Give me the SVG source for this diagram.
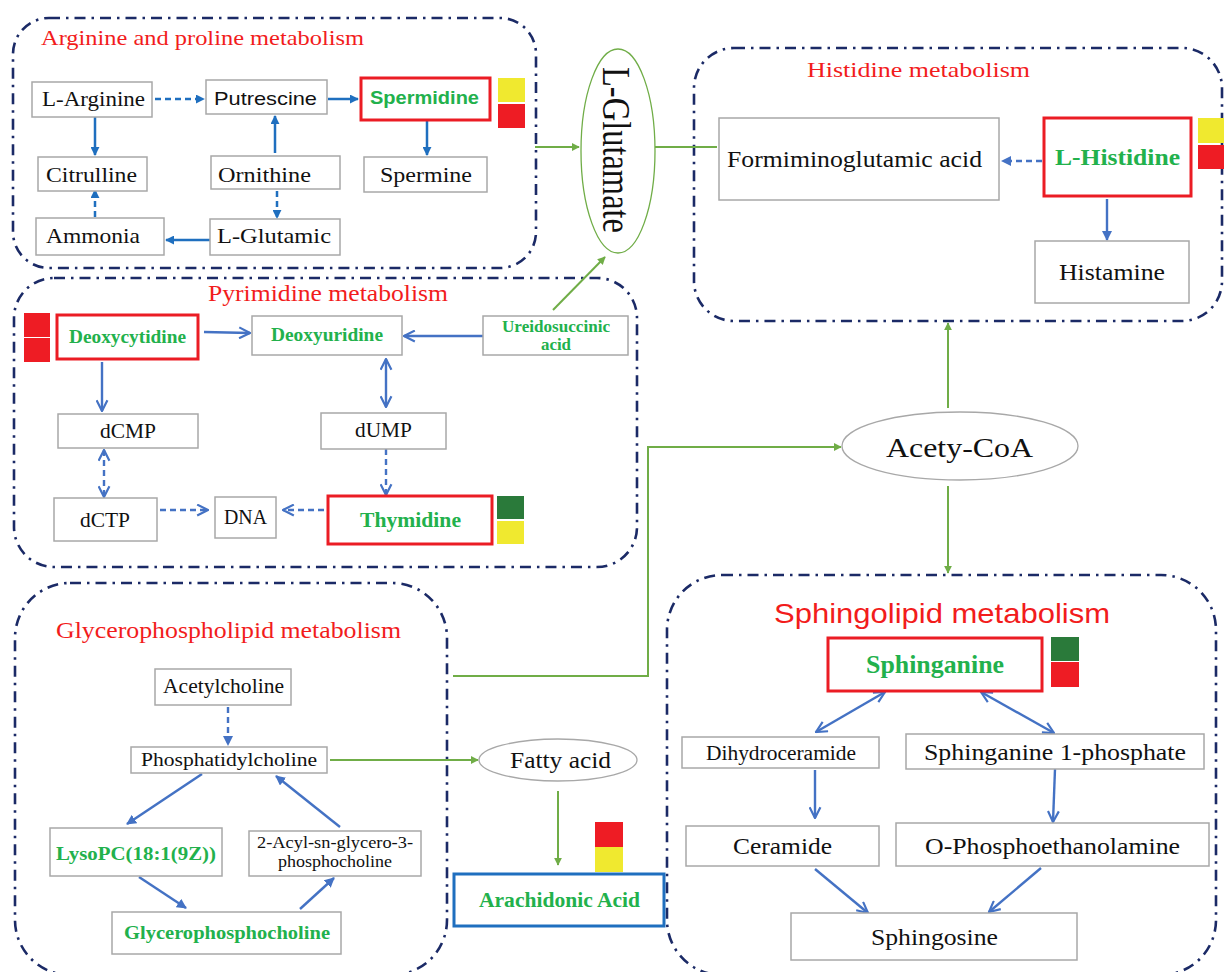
<svg xmlns="http://www.w3.org/2000/svg" width="1224" height="972" viewBox="0 0 1224 972">
<defs>
<marker id="aB" viewBox="0 0 10 10" refX="9" refY="5" markerWidth="9" markerHeight="9" markerUnits="userSpaceOnUse" orient="auto-start-reverse"><path d="M0,0 L10,5 L0,10 z" fill="#1F6FBF"/></marker>
<marker id="aL" viewBox="0 0 10 10" refX="9" refY="5" markerWidth="10" markerHeight="10" markerUnits="userSpaceOnUse" orient="auto-start-reverse"><path d="M0,0 L10,5 L0,10 z" fill="#4472C4"/></marker>
<marker id="oL" viewBox="0 0 12 12" refX="11" refY="6" markerWidth="13" markerHeight="13" markerUnits="userSpaceOnUse" orient="auto-start-reverse"><path d="M1,1 L11,6 L1,11" fill="none" stroke="#4472C4" stroke-width="2"/></marker>
<marker id="aG" viewBox="0 0 10 10" refX="9" refY="5" markerWidth="8" markerHeight="8" markerUnits="userSpaceOnUse" orient="auto"><path d="M0,0 L10,5 L0,10 z" fill="#70AD47"/></marker>
</defs>
<style>
.panel{fill:none;stroke:#1B2A66;stroke-width:2.6;stroke-dasharray:11 6 2.5 6}
.box{fill:#fff;stroke:#A8A8A8;stroke-width:1.5}
.rbox{fill:#fff;stroke:#EB1C24;stroke-width:3}
.t{font-family:"Liberation Serif",serif;fill:#111;text-anchor:middle}
.s{font-family:"Liberation Sans",sans-serif;fill:#111;text-anchor:middle}
.g{font-family:"Liberation Serif",serif;font-weight:bold;fill:#22B14C;text-anchor:middle}
.gs{font-family:"Liberation Sans",sans-serif;font-weight:bold;fill:#22B14C;text-anchor:middle}
.ti{font-family:"Liberation Serif",serif;fill:#F21C1C}
.tis{font-family:"Liberation Sans",sans-serif;fill:#F21C1C}
.cB{fill:none;stroke:#1F6FBF;stroke-width:2.5;marker-end:url(#aB)}
.cL{fill:none;stroke:#4472C4;stroke-width:2.4;marker-end:url(#aL)}
.cO{fill:none;stroke:#4472C4;stroke-width:2.4;marker-end:url(#oL)}
.cG{fill:none;stroke:#70AD47;stroke-width:2;marker-end:url(#aG)}
.d{stroke-dasharray:6 4}
.yel{fill:#F0E92F}
.red{fill:#EE1C24}
.dg{fill:#2A7A3A}
</style>

<g id="panels">
<rect class="panel" x="13" y="18" width="523" height="250" rx="36"/>
<rect class="panel" x="694" y="48" width="528" height="273" rx="40"/>
<rect class="panel" x="14" y="278" width="623" height="289" rx="40"/>
<rect class="panel" x="15" y="583" width="432" height="392" rx="55"/>
<rect class="panel" x="667" y="575" width="549" height="400" rx="55"/>
</g>

<g id="titles">
<text class="ti" x="41" y="45" font-size="21" textLength="323" lengthAdjust="spacingAndGlyphs">Arginine and proline metabolism</text>
<text class="ti" x="807" y="77" font-size="21" textLength="223" lengthAdjust="spacingAndGlyphs">Histidine metabolism</text>
<text class="ti" x="208" y="301" font-size="23.5" textLength="240" lengthAdjust="spacingAndGlyphs">Pyrimidine metabolism</text>
<text class="ti" x="56" y="638" font-size="23" textLength="345" lengthAdjust="spacingAndGlyphs">Glycerophospholipid metabolism</text>
<text class="tis" x="774" y="623" font-size="28" textLength="336" lengthAdjust="spacingAndGlyphs">Sphingolipid metabolism</text>
</g>

<g id="connectors">
<path class="cB d" d="M155,99 H204"/>
<path class="cB" d="M328,99 H358"/>
<path class="cB" d="M95,117 V155"/>
<path class="cB" d="M275,153 V116"/>
<path class="cB" d="M427,121 V155"/>
<path class="cB d" d="M277,191 V218"/>
<path class="cB" d="M210,240 H166"/>
<path class="cB d" d="M95,217 V190"/>

<path class="cL d" d="M1042,161 H1002"/>
<path class="cL" d="M1107,199 V240"/>

<path class="cO" d="M204,332 L250,333"/>
<path class="cO" d="M483,336 H404"/>
<path class="cO" d="M102,362 V411"/>
<path class="cO" d="M386,359 V407" marker-start="url(#oL)"/>
<path class="cO d" d="M104,450 V497" marker-start="url(#oL)"/>
<path class="cO d" d="M386,449 V495"/>
<path class="cO d" d="M160,510 H208"/>
<path class="cO d" d="M324,510 H283"/>

<path class="cL d" d="M228,707 V745"/>
<path class="cL" d="M202,774 L127,824"/>
<path class="cL" d="M340,827 L276,776"/>
<path class="cL" d="M139,877 L186,908"/>
<path class="cL" d="M300,909 L334,878"/>

<path class="cO" d="M885,692 L816,732" marker-start="url(#oL)"/>
<path class="cO" d="M981,692 L1054,733" marker-start="url(#oL)"/>
<path class="cO" d="M815,770 V818"/>
<path class="cO" d="M1055,769 L1053,822"/>
<path class="cO" d="M815,869 L868,913"/>
<path class="cO" d="M1041,868 L989,912"/>

<path class="cG" d="M535,147 H579"/>
<path d="M655,147 H717" fill="none" stroke="#70AD47" stroke-width="2"/>
<path class="cG" d="M553,310 L605,257" stroke-width="1.3"/>
<path class="cG" d="M330,760 H478"/>
<path class="cG" d="M558,791 V865"/>
<path class="cG" d="M453,676 H648 V447 H841"/>
<path class="cG" d="M948,408 V323"/>
<path class="cG" d="M948,486 V573"/>
</g>

<g id="n-larginine"><rect class="box" x="32" y="82" width="120" height="35"/><text class="t" x="93.5" y="106" font-size="22" textLength="103" lengthAdjust="spacingAndGlyphs">L-Arginine</text></g>
<g id="n-putrescine"><rect class="box" x="206" y="80" width="121" height="34"/><text class="s" x="265.5" y="105" font-size="19" textLength="103" lengthAdjust="spacingAndGlyphs">Putrescine</text></g>
<g id="n-spermidine"><rect class="rbox" x="361" y="78" width="129" height="42"/><text class="gs" x="424.5" y="104" font-size="18" textLength="109" lengthAdjust="spacingAndGlyphs">Spermidine</text><rect class="yel" x="498" y="78" width="27" height="24"/><rect class="red" x="498" y="104" width="27" height="24"/></g>
<g id="n-citrulline"><rect class="box" x="38" y="157" width="109" height="34"/><text class="t" x="91.5" y="182" font-size="22" textLength="91" lengthAdjust="spacingAndGlyphs">Citrulline</text></g>
<g id="n-ornithine"><rect class="box" x="211" y="156" width="129" height="33"/><text class="t" x="264.5" y="182" font-size="22" textLength="93" lengthAdjust="spacingAndGlyphs">Ornithine</text></g>
<g id="n-spermine"><rect class="box" x="364" y="157" width="123" height="35"/><text class="t" x="426" y="182" font-size="22" textLength="92" lengthAdjust="spacingAndGlyphs">Spermine</text></g>
<g id="n-ammonia"><rect class="box" x="36" y="218" width="128" height="37"/><text class="t" x="93" y="243" font-size="22" textLength="94" lengthAdjust="spacingAndGlyphs">Ammonia</text></g>
<g id="n-lglutamic"><rect class="box" x="210" y="219" width="130" height="36"/><text class="t" x="274" y="243" font-size="22" textLength="114" lengthAdjust="spacingAndGlyphs">L-Glutamic</text></g>

<g id="n-lglutamate"><ellipse cx="618" cy="151" rx="37" ry="102" fill="#fff" stroke="#70AD47" stroke-width="1.3"/><text class="t" transform="translate(618,150) rotate(90)" x="0" y="15" font-size="40" textLength="166" lengthAdjust="spacingAndGlyphs">L-Glutamate</text></g>

<g id="n-formimino"><rect class="box" x="719" y="118" width="280" height="82"/><text class="t" x="854.5" y="167" font-size="23" textLength="255" lengthAdjust="spacingAndGlyphs">Formiminoglutamic acid</text></g>
<g id="n-lhistidine"><rect class="rbox" x="1044" y="118" width="147" height="78"/><text class="g" x="1117.5" y="165" font-size="24" textLength="125" lengthAdjust="spacingAndGlyphs">L-Histidine</text><rect class="yel" x="1198" y="118" width="26" height="25"/><rect class="red" x="1198" y="145" width="26" height="24"/></g>
<g id="n-histamine"><rect class="box" x="1035" y="241" width="154" height="62"/><text class="t" x="1112" y="280" font-size="23" textLength="106" lengthAdjust="spacingAndGlyphs">Histamine</text></g>

<g id="n-deoxycytidine"><rect class="rbox" x="57" y="315" width="141" height="44"/><text class="g" x="127.5" y="343" font-size="18" textLength="117" lengthAdjust="spacingAndGlyphs">Deoxycytidine</text><rect class="red" x="24" y="313" width="26" height="24"/><rect class="red" x="24" y="338" width="26" height="24"/></g>
<g id="n-deoxyuridine"><rect class="box" x="252" y="316" width="150" height="39"/><text class="g" x="327" y="341" font-size="19" textLength="112" lengthAdjust="spacingAndGlyphs">Deoxyuridine</text></g>
<g id="n-ureido"><rect class="box" x="483" y="316" width="145" height="39"/><text class="g" x="556" y="332" font-size="17" textLength="108" lengthAdjust="spacingAndGlyphs">Ureidosuccinic</text><text class="g" x="556" y="350" font-size="17" textLength="30" lengthAdjust="spacingAndGlyphs">acid</text></g>
<g id="n-dcmp"><rect class="box" x="58" y="414" width="140" height="34"/><text class="t" x="128" y="438" font-size="20.5" textLength="56" lengthAdjust="spacingAndGlyphs">dCMP</text></g>
<g id="n-dump"><rect class="box" x="321" y="413" width="125" height="36"/><text class="t" x="383.5" y="437" font-size="20.5" textLength="57" lengthAdjust="spacingAndGlyphs">dUMP</text></g>
<g id="n-dctp"><rect class="box" x="54" y="498" width="103" height="43"/><text class="t" x="105" y="527" font-size="20.5" textLength="50" lengthAdjust="spacingAndGlyphs">dCTP</text></g>
<g id="n-dna"><rect class="box" x="215" y="497" width="61" height="41"/><text class="t" x="245.5" y="524" font-size="20.5" textLength="43" lengthAdjust="spacingAndGlyphs">DNA</text></g>
<g id="n-thymidine"><rect class="rbox" x="328" y="496" width="164" height="48"/><text class="g" x="410.5" y="527" font-size="21" textLength="101" lengthAdjust="spacingAndGlyphs">Thymidine</text><rect class="dg" x="497" y="496" width="27" height="23"/><rect class="yel" x="497" y="521" width="27" height="23"/></g>

<g id="n-acetylcholine"><rect class="box" x="155" y="669" width="136" height="36"/><text class="t" x="223.5" y="693" font-size="20" textLength="121" lengthAdjust="spacingAndGlyphs">Acetylcholine</text></g>
<g id="n-phosphatidylcholine"><rect class="box" x="131" y="747" width="196" height="26"/><text class="t" x="229" y="766" font-size="19" textLength="176" lengthAdjust="spacingAndGlyphs">Phosphatidylcholine</text></g>
<g id="n-lysopc"><rect class="box" x="50" y="828" width="172" height="48"/><text class="g" x="136" y="860" font-size="18" textLength="160" lengthAdjust="spacingAndGlyphs">LysoPC(18:1(9Z))</text></g>
<g id="n-acyl"><rect class="box" x="249" y="831" width="172" height="45"/><text class="t" x="335" y="848" font-size="16" textLength="156" lengthAdjust="spacingAndGlyphs">2-Acyl-sn-glycero-3-</text><text class="t" x="335" y="867" font-size="16" textLength="114" lengthAdjust="spacingAndGlyphs">phosphocholine</text></g>
<g id="n-gpc"><rect class="box" x="112" y="912" width="229" height="42"/><text class="g" x="227" y="939" font-size="18" textLength="206" lengthAdjust="spacingAndGlyphs">Glycerophosphocholine</text></g>
<g id="n-fattyacid"><ellipse cx="558" cy="760" rx="79" ry="21" fill="#fff" stroke="#A8A8A8" stroke-width="1.3"/><text class="t" x="560.5" y="768" font-size="23" textLength="101" lengthAdjust="spacingAndGlyphs">Fatty acid</text></g>
<g id="n-arachidonic"><rect x="454" y="874" width="210" height="52" fill="#fff" stroke="#1F6FBF" stroke-width="3"/><text class="g" x="559.5" y="907" font-size="20" textLength="161" lengthAdjust="spacingAndGlyphs">Arachidonic Acid</text><rect class="red" x="595" y="822" width="28" height="25"/><rect class="yel" x="595" y="847" width="28" height="25"/></g>

<g id="n-acetycoa"><ellipse cx="960" cy="446" rx="118" ry="34" fill="#fff" stroke="#A8A8A8" stroke-width="1.3"/><text class="t" x="959.5" y="457" font-size="28" textLength="147" lengthAdjust="spacingAndGlyphs">Acety-CoA</text></g>

<g id="n-sphinganine"><rect class="rbox" x="828" y="638" width="214" height="53"/><text class="g" x="935" y="673" font-size="25" textLength="138" lengthAdjust="spacingAndGlyphs">Sphinganine</text><rect class="dg" x="1051" y="637" width="28" height="24"/><rect class="red" x="1051" y="662" width="28" height="25"/></g>
<g id="n-dihydroceramide"><rect class="box" x="682" y="737" width="197" height="31"/><text class="t" x="781" y="760" font-size="20" textLength="150" lengthAdjust="spacingAndGlyphs">Dihydroceramide</text></g>
<g id="n-s1p"><rect class="box" x="906" y="734" width="298" height="35"/><text class="t" x="1055" y="760" font-size="24" textLength="262" lengthAdjust="spacingAndGlyphs">Sphinganine 1-phosphate</text></g>
<g id="n-ceramide"><rect class="box" x="686" y="826" width="193" height="40"/><text class="t" x="782.5" y="854" font-size="24" textLength="99" lengthAdjust="spacingAndGlyphs">Ceramide</text></g>
<g id="n-ophospho"><rect class="box" x="896" y="823" width="313" height="43"/><text class="t" x="1052.5" y="854" font-size="24" textLength="255" lengthAdjust="spacingAndGlyphs">O-Phosphoethanolamine</text></g>
<g id="n-sphingosine"><rect class="box" x="791" y="913" width="286" height="47"/><text class="t" x="934.5" y="945" font-size="24" textLength="127" lengthAdjust="spacingAndGlyphs">Sphingosine</text></g>
</svg>
